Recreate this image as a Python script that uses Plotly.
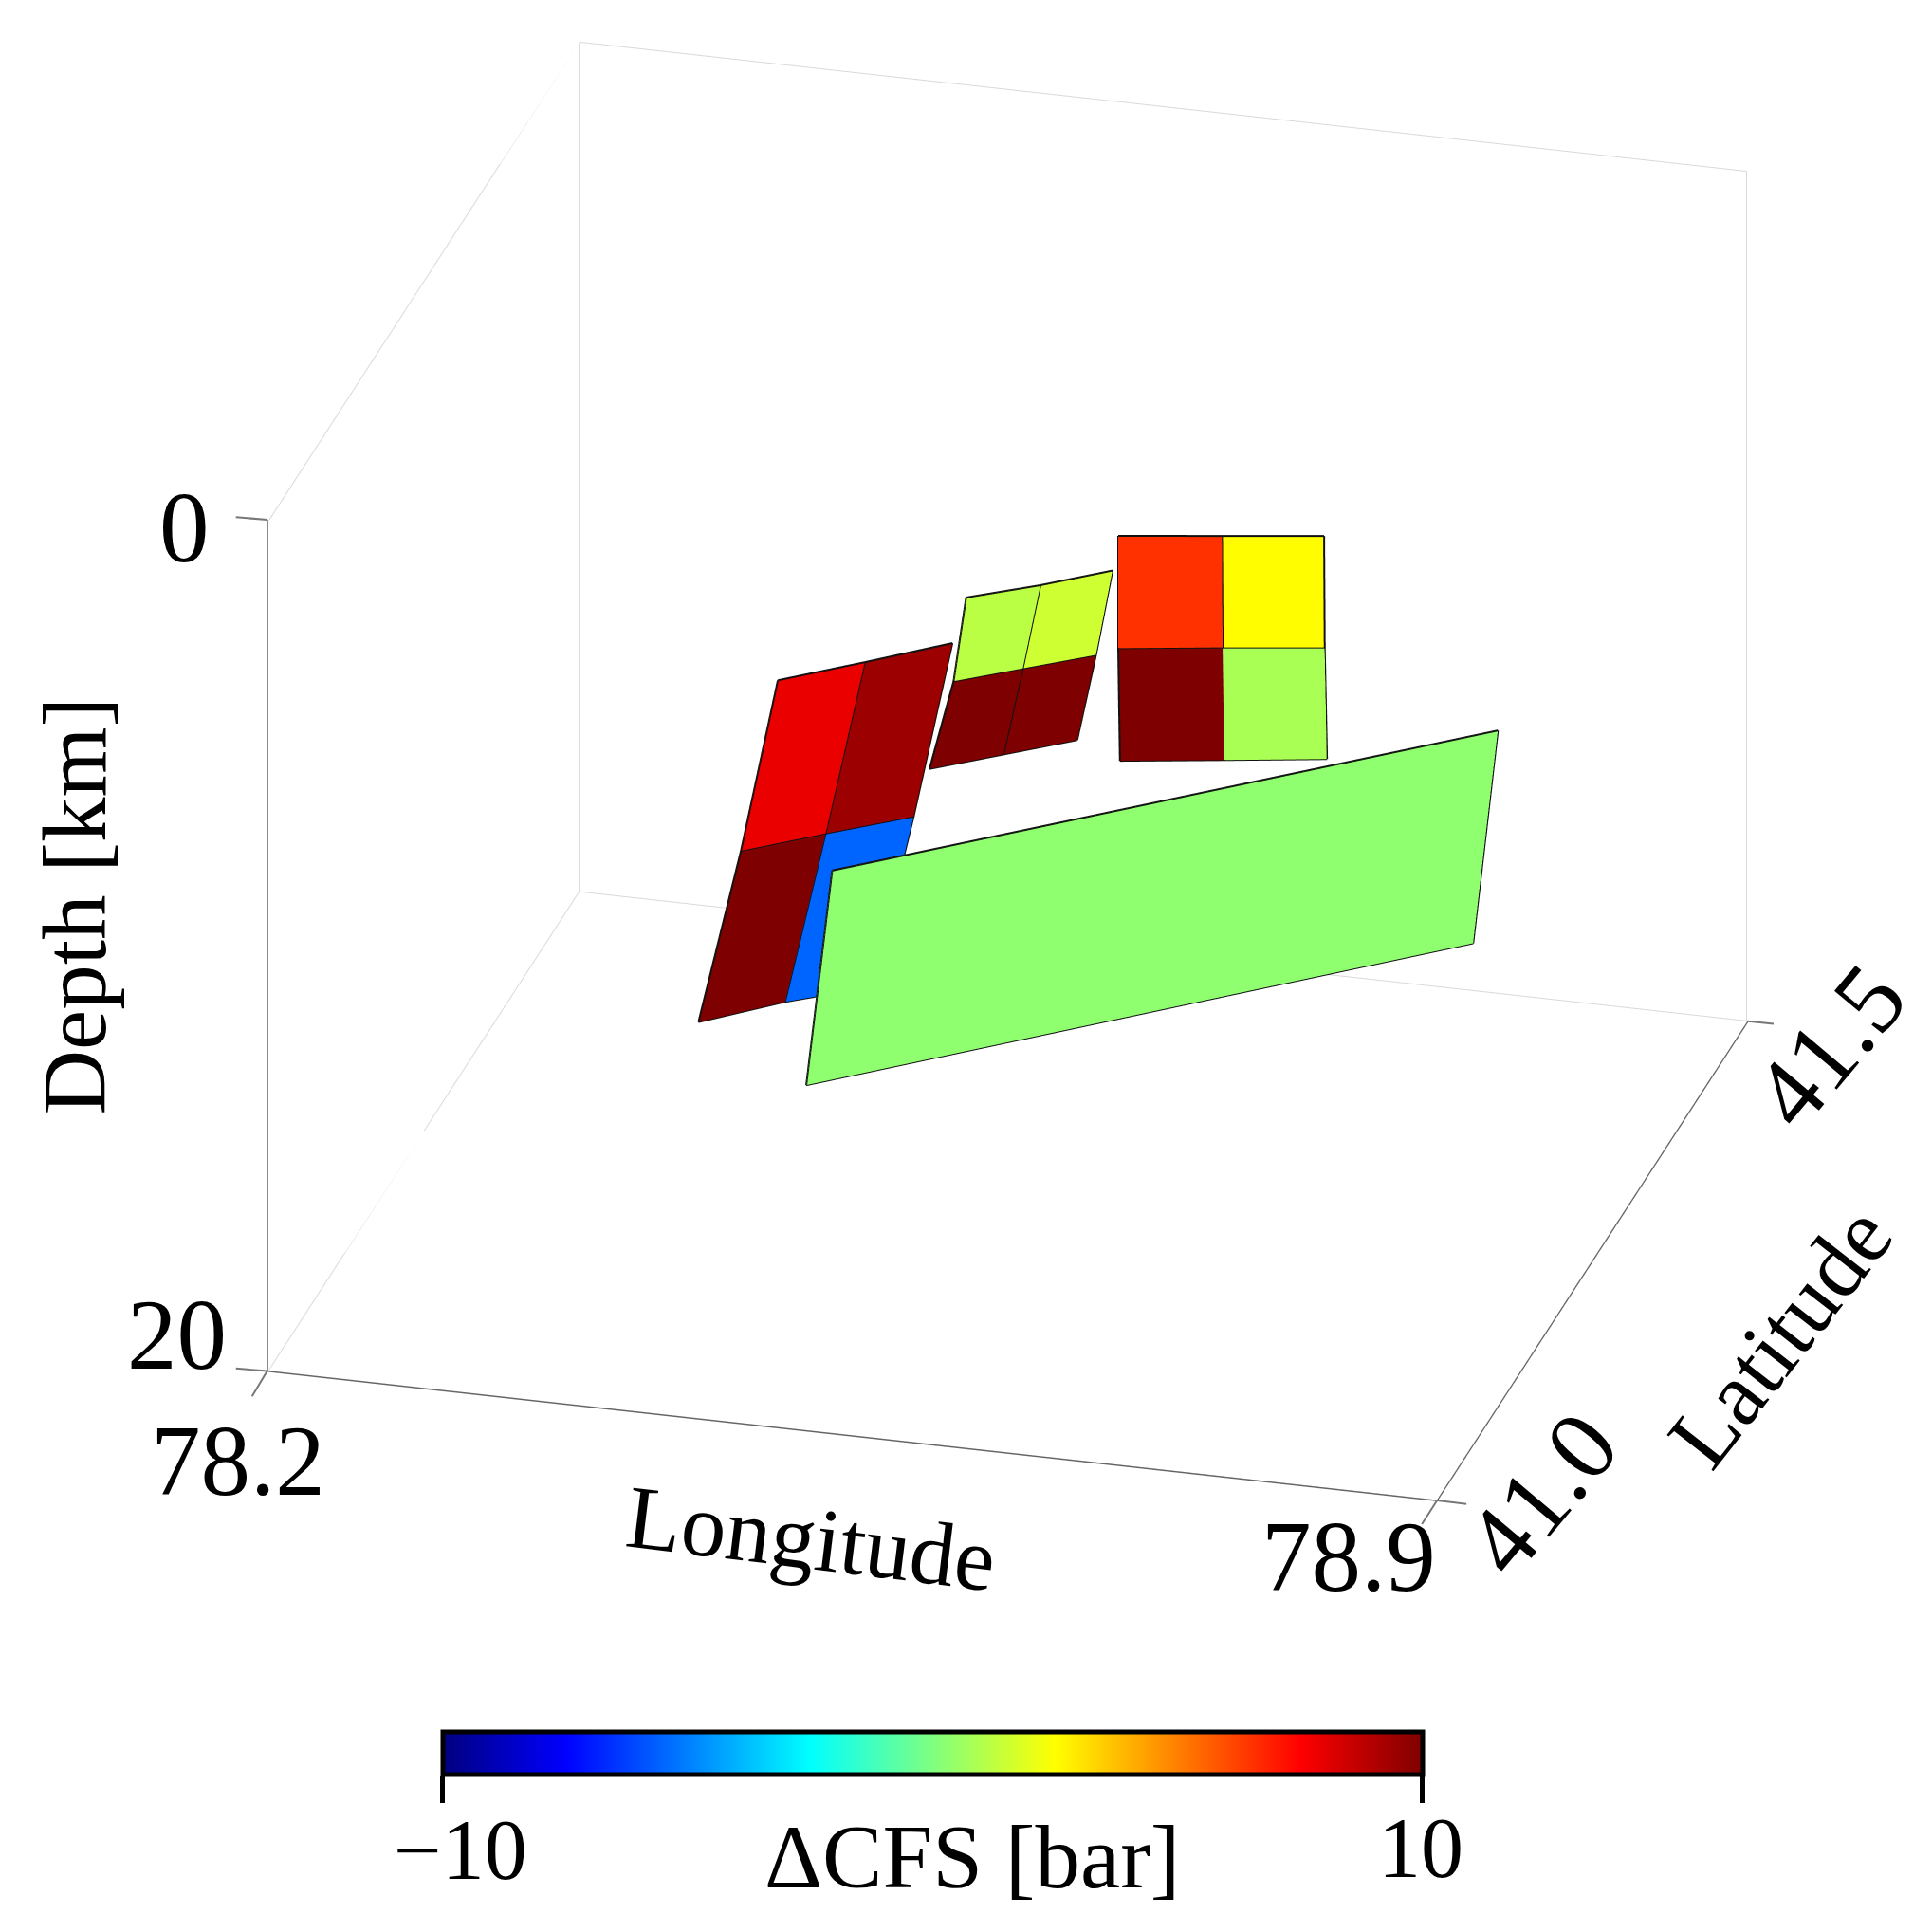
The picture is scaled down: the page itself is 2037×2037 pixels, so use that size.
import plotly.graph_objects as go

LON_RANGE = [78.2, 78.9]
LAT_RANGE = [41.0, 41.5]
DEPTH_RANGE = [20, 0]

# fault grids: rows go down-dip, columns along strike
F1_LON = [[78.466, 78.508, 78.550], [78.435, 78.476, 78.519], [78.401, 78.442, 78.485]]
F1_LAT = [[41.106, 41.133, 41.161], [41.130, 41.156, 41.182], [41.153, 41.182, 41.206]]
F1_DEP = [[5.0, 5.0, 5.0], [9.68, 9.68, 9.68], [14.37, 14.37, 14.37]]
F1_VAL = [[7.85, 9.4], [10, -5.5]]

F2_LON = [[78.572, 78.609, 78.644], [78.560, 78.594, 78.630], [78.543, 78.579, 78.615]]
F2_LAT = [[41.124, 41.144, 41.166], [41.136, 41.156, 41.177], [41.143, 41.165, 41.187]]
F2_DEP = [[3.0, 3.0, 3.0], [5.29, 5.29, 5.29], [7.58, 7.58, 7.58]]
F2_VAL = [[1.16, 1.5], [10, 10]]

F3_LON = [[78.650, 78.708, 78.765], [78.650, 78.708, 78.765], [78.651, 78.709, 78.766]]
F3_LAT = [[41.159, 41.170, 41.181], [41.159, 41.171, 41.182], [41.159, 41.171, 41.183]]
F3_DEP = [[2.0, 2.0, 2.0], [4.64, 4.64, 4.64], [7.28, 7.28, 7.28]]
F3_VAL = [[6.5, 2.5], [10, 0.83]]

F4_LON = [[78.519, 78.840], [78.499, 78.820]]
F4_LAT = [[41.051, 41.259], [41.063, 41.273]]
F4_DEP = [[8.0, 8.0], [13.4, 13.4]]
F4_VAL = [[0.3]]

FAULTS = [
    (F1_LON, F1_LAT, F1_DEP, F1_VAL),
    (F2_LON, F2_LAT, F2_DEP, F2_VAL),
    (F3_LON, F3_LAT, F3_DEP, F3_VAL),
    (F4_LON, F4_LAT, F4_DEP, F4_VAL),
]

JET = [[0, "#00007F"], [0.125, "#0000FF"], [0.375, "#00FFFF"],
       [0.625, "#FFFF00"], [0.875, "#FF0000"], [1, "#7F0000"]]

FONT = "Liberation Serif"
x0, x1 = LON_RANGE
y0, y1 = LAT_RANGE
zb, zt = DEPTH_RANGE

fig = go.Figure()

# back edges of the box, a hair inside the axis ranges so they are not clipped
ex0, ex1 = x0 + 0.0007, x1 - 0.0007
ey0, ey1 = y0 + 0.0005, y1 - 0.0005
ezb, ezt = zb - 0.02, zt + 0.02
ymid = (y0 + y1) / 2
EDGE_SEGMENTS = [
    ((ex0, ey0, ezt), (ex0, ymid, ezt)),
    ((ex0, ymid, ezt), (ex0, ey1, ezt)),
    ((ex0, ey1, ezt), (ex1, ey1, ezt)),
    ((ex1, ey1, ezt), (ex1, ey1, ezb)),
    ((ex0, ey1, ezt), (ex0, ey1, ezb)),
    ((ex0, ey1, ezb), (ex1, ey1, ezb)),
    ((ex0, ey1, ezb), (ex0, ymid, ezb)),
    ((ex0, ymid, ezb), (ex0, ey0, ezb)),
]
for p, q in EDGE_SEGMENTS:
    fig.add_trace(go.Scatter3d(x=[p[0], q[0]], y=[p[1], q[1]], z=[p[2], q[2]], mode="lines",
                               line=dict(color="#d9d9d9", width=2),
                               hoverinfo="skip", showlegend=False))

for lon, lat, dep, val in FAULTS:
    nr, nc = len(lon), len(lon[0])
    xs = [v for row in lon for v in row]
    ys = [v for row in lat for v in row]
    zs = [v for row in dep for v in row]
    I, J, K, C = [], [], [], []
    for r in range(nr - 1):
        for c in range(nc - 1):
            a = r * nc + c
            b = a + 1
            d = a + nc
            e = d + 1
            I += [a, b]
            J += [b, e]
            K += [d, d]
            C += [val[r][c], val[r][c]]
    fig.add_trace(go.Mesh3d(x=xs, y=ys, z=zs, i=I, j=J, k=K,
                            intensity=C, intensitymode="cell",
                            coloraxis="coloraxis", flatshading=True,
                            lighting=dict(ambient=1, diffuse=0, specular=0, roughness=1, fresnel=0),
                            hoverinfo="skip", showlegend=False))
    lx, ly, lz = [], [], []
    for r in range(nr):
        lx += lon[r] + [None]
        ly += lat[r] + [None]
        lz += dep[r] + [None]
    for c in range(nc):
        lx += [lon[r][c] for r in range(nr)] + [None]
        ly += [lat[r][c] for r in range(nr)] + [None]
        lz += [dep[r][c] for r in range(nr)] + [None]
    fig.add_trace(go.Scatter3d(x=lx, y=ly, z=lz, mode="lines",
                               line=dict(color="#111111", width=4),
                               hoverinfo="skip", showlegend=False))

def axis(rng):
    return dict(range=rng, tickvals=rng, showticklabels=False, title=dict(text=""),
                showgrid=False, zeroline=False, showbackground=False, showspikes=False,
                showline=True, linecolor="#666666", linewidth=3, ticks="")

def note(x, y, z, text, xs, ys, size, angle=0):
    return dict(x=x, y=y, z=z, text=text, showarrow=False, xshift=xs, yshift=ys,
                textangle=angle, xanchor="center", yanchor="middle",
                font=dict(family=FONT, size=size, color="black"))

def tick(x, y, z, ax, ay):
    return dict(x=x, y=y, z=z, text=" ", showarrow=True, arrowhead=0, arrowwidth=2,
                arrowcolor="#777777", ax=ax, ay=ay, standoff=0,
                font=dict(family=FONT, size=4, color="white"))

annots = [
    note(x0, y0, zt, "0", -87, -8, 105),
    note(x0, y0, zb, "20", -95, 38, 105),
    note(x0, y0, zb, "78.2", -31, -95, 105),
    note(x1, y0, zb, "78.9", -93, -59, 105),
    note(x1, y0, zb, "41.0", 110, 8, 105, -50),
    note(x1, y1, zb, "41.5", 86, -26, 105, -50),
    note(78.55, y0, zb, "Longitude", -43, -108, 95, 7),
    note(x1, 41.25, zb, "Latitude", 198, -80, 95, -52),
    note(x0, y0, 10, "Depth [km]", -203, 42, 95, -90),
    tick(x0, y0, zt, -35, -3),
    tick(x0, y0, zb, -35, -3),
    tick(x0, y0, zb, -18, 30),
    tick(x1, y0, zb, -18, 28),
    tick(x1, y0, zb, 33, 4),
    tick(x1, y1, zb, 29, 3),
]

def label(x, y, text, size):
    return dict(xref="paper", yref="paper", x=x, y=y, text=text, showarrow=False,
                xanchor="center", yanchor="middle",
                font=dict(family=FONT, size=size, color="black"))

R = 4.5
ZOOM = 1.587
fig.update_layout(
    width=2037, height=2037, margin=dict(l=0, r=0, t=0, b=0),
    paper_bgcolor="white", showlegend=False,
    scene=dict(
        domain=dict(x=[0.0352, 1], y=[0.2102, 1]),
        xaxis=axis(LON_RANGE), yaxis=axis(LAT_RANGE), zaxis=axis(DEPTH_RANGE),
        aspectmode="manual", aspectratio=dict(x=ZOOM, y=0.992 * ZOOM, z=0.772 * ZOOM),
        camera=dict(projection=dict(type="orthographic"),
                    up=dict(x=0, y=0, z=1), center=dict(x=0, y=0, z=0),
                    eye=dict(x=0.2357 * R, y=-0.8797 * R, z=0.4131 * R)),
        annotations=annots,
    ),
    coloraxis=dict(
        colorscale=JET, cmin=-10, cmax=10,
        colorbar=dict(orientation="h", x=0.4787, xanchor="center", y=0.1073, yanchor="top",
                      lenmode="pixels", len=1033, thickness=45, xpad=0, ypad=0,
                      outlinecolor="black", outlinewidth=5,
                      tickmode="array", tickvals=[-10, 10], showticklabels=False,
                      ticks="outside", ticklen=28, tickwidth=5, tickcolor="black"),
    ),
    annotations=[label(0.2346, 0.0462, "\u221210", 90),
                 label(0.7314, 0.0474, "10", 90),
                 label(0.4995, 0.0429, "\u0394CFS [bar]", 95)],
)
fig.write_html("out.html")
